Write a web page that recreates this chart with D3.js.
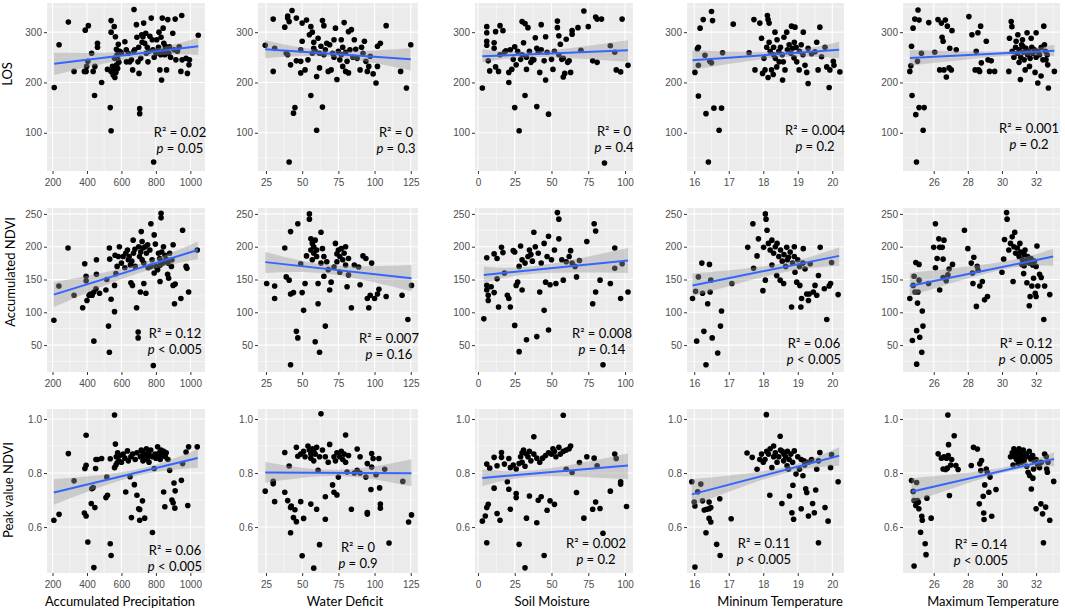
<!DOCTYPE html>
<html>
<head>
<meta charset="utf-8">
<script src="https://cdn.jsdelivr.net/npm/d3@7"></script>
<style>body{margin:0;background:#fff}</style>
</head>
<body>
<svg id="fig" width="1065" height="612"></svg>
<script>
// ---- data ----
const xTitles = ['Accumulated Precipitation', 'Water Deficit', 'Soil Moisture', 'Mininum Temperature', 'Maximum Temperature'];
const yTitles = ['LOS', 'Accumulated NDVI', 'Peak value NDVI'];

const xTicks = [[200, 400, 600, 800, 1000], [25, 50, 75, 100, 125], [0, 25, 50, 75, 100], [16, 17, 18, 19, 20], [26, 28, 30, 32]];
const xMinor = [[300, 500, 700, 900], [37.5, 62.5, 87.5, 112.5], [12.5, 37.5, 62.5, 87.5], [16.5, 17.5, 18.5, 19.5], [25, 27, 29, 31, 33]];
const yTicks = [[100, 200, 300], [50, 100, 150, 200, 250], [0.6, 0.8, 1.0]];
const yMinor = [[50, 150, 250, 350], [25, 75, 125, 175, 225], [0.5, 0.7, 0.9]];
const xDomains = [[168, 1085], [19.5, 130], [-2, 105.4], [15.79, 20.34], [24.2, 33.4]];
const yDomains = [[24, 358], [9, 259], [0.43, 1.037]];

const r2Labels = [['0.02', '0', '0', '0.004', '0.001'], ['0.12', '0.007', '0.008', '0.06', '0.12'], ['0.06', '0', '0.002', '0.11', '0.14']];
const pLabels = [['= 0.05', '= 0.3', '= 0.4', '= 0.2', '= 0.2'], ['< 0.005', '= 0.16', '= 0.14', '< 0.005', '< 0.005'], ['< 0.005', '= 0.9', '= 0.2', '< 0.005', '< 0.005']];

// fitted line [x0, y0, x1, y1] and confidence band [x, low, high]
const fitLines = [
  [[210, 237, 1046, 272], [24.5, 266, 125, 246], [3, 252, 102, 264], [15.95, 244, 20.2, 265], [24.6, 248.5, 33.07, 263]],
  [[208, 127, 1043, 195], [24.5, 176.5, 125.5, 152], [4, 157, 102, 179], [15.95, 141, 20.2, 186], [24.6, 140, 33.0, 185]],
  [[208, 0.728, 1043, 0.856], [24.5, 0.802, 125.5, 0.799], [3, 0.782, 102, 0.828], [15.93, 0.721, 20.2, 0.864], [24.7, 0.731, 33.05, 0.852]]
];
const bands = [
  [[[210, 215, 259], [700, 250, 263], [1046, 255, 289]], [[24.5, 248, 284], [70, 251, 263], [125, 224, 268]], [[3, 240, 266], [40, 250, 262], [102, 241, 284]], [[15.95, 225, 264], [18.5, 250, 262], [20.2, 248, 281]], [[24.6, 233, 265], [30, 252, 262], [33.07, 252, 275]]],
  [[[208, 108, 146], [680, 158, 172], [1043, 181, 208]], [[24.5, 160, 192], [70, 158, 172], [125.5, 132, 172]], [[4, 145, 170], [40, 159, 171], [102, 160, 198]], [[15.95, 124, 159], [18.5, 160, 174], [20.2, 171, 199]], [[24.6, 125, 160], [30, 165, 177], [33.0, 171, 197]]],
  [[[208, 0.683, 0.777], [680, 0.788, 0.812], [1043, 0.82, 0.888]], [[24.5, 0.764, 0.841], [75, 0.789, 0.812], [125.5, 0.751, 0.851]], [[3, 0.752, 0.814], [40, 0.787, 0.811], [102, 0.777, 0.872]], [[15.93, 0.678, 0.777], [18.5, 0.795, 0.819], [20.2, 0.827, 0.895]], [[24.7, 0.69, 0.781], [30, 0.8, 0.82], [33.05, 0.825, 0.877]]]
];

const losPrecip = [[210,190],[238,275],[292,320],[325,222],[385,222],[395,222],[390,304],[408,313],[398,232],[405,242],[427,258],[436,222],[446,232],[461,278],[461,270],[444,174],[485,200],[519,226],[540,323],[540,300],[535,150],[540,104],[558,311],[565,291],[571,266],[575,255],[579,246],[540,222],[548,232],[552,215],[558,226],[562,210],[568,220],[572,235],[578,228],[585,240],[590,262],[595,260],[600,258],[560,248],[582,276],[620,281],[628,265],[629,241],[640,258],[648,241],[658,245],[665,225],[672,262],[677,265],[673,345],[687,315],[690,290],[696,241],[702,218],[706,148],[706,138],[700,270],[712,248],[718,295],[720,280],[729,318],[725,291],[741,298],[735,278],[744,258],[750,270],[754,241],[760,262],[765,292],[773,328],[779,285],[783,265],[787,42],[790,250],[800,258],[805,285],[810,262],[815,270],[818,300],[823,225],[828,255],[830,290],[833,205],[837,328],[840,262],[842,308],[846,278],[852,255],[855,272],[858,265],[862,225],[869,325],[875,258],[879,271],[885,250],[898,298],[906,265],[912,326],[916,245],[925,262],[935,271],[945,222],[950,333],[952,245],[975,248],[983,218],[992,235],[995,245],[1046,294]];
const accPrecip = [[208,88],[237,140],[290,198],[325,126],[375,107],[387,174],[395,155],[395,148],[400,118],[412,126],[420,128],[430,126],[440,131],[440,56],[455,180],[455,158],[452,136],[473,129],[510,134],[515,150],[530,198],[532,181],[525,79],[530,39],[540,120],[560,101],[560,141],[568,159],[575,170],[563,187],[582,185],[588,200],[600,175],[610,185],[620,168],[625,190],[635,195],[640,180],[645,185],[652,172],[655,145],[660,178],[664,141],[668,210],[670,190],[678,196],[680,170],[688,107],[697,70],[697,61],[700,200],[705,185],[710,131],[712,192],[715,223],[720,208],[720,180],[725,198],[730,144],[730,175],[738,200],[742,129],[745,190],[752,203],[755,168],[765,195],[770,170],[771,235],[778,180],[785,19],[790,218],[790,160],[797,204],[800,170],[810,165],[815,190],[822,182],[824,147],[825,172],[830,251],[830,244],[834,192],[840,175],[844,200],[850,178],[853,187],[864,180],[868,158],[870,175],[874,152],[880,190],[890,170],[893,180],[900,203],[900,141],[912,143],[908,113],[945,121],[955,225],[975,170],[980,167],[990,131],[1040,195]];
const peakPrecip = [[208,0.625],[238,0.647],[292,0.872],[325,0.771],[385,0.652],[395,0.641],[388,0.817],[395,0.829],[395,0.94],[405,0.545],[428,0.742],[436,0.746],[425,0.687],[440,0.45],[446,0.672],[450,0.817],[452,0.85],[461,0.85],[485,0.854],[510,0.709],[519,0.718],[515,0.785],[535,0.853],[535,0.538],[540,0.495],[560,1.015],[565,0.907],[560,0.82],[568,0.83],[575,0.838],[585,0.845],[570,0.86],[578,0.875],[590,0.865],[600,0.84],[610,0.87],[620,0.855],[625,0.73],[635,0.882],[640,0.845],[650,0.786],[655,0.86],[658,0.635],[665,0.87],[675,0.757],[680,0.85],[690,0.718],[690,0.875],[700,0.668],[706,0.665],[706,0.625],[710,0.86],[715,0.885],[720,0.88],[722,0.697],[725,0.845],[730,0.87],[735,0.633],[740,0.86],[745,0.89],[750,0.85],[755,0.875],[760,0.84],[765,0.865],[770,0.885],[780,0.58],[780,0.86],[790,0.817],[795,0.87],[800,0.855],[810,0.897],[815,0.86],[820,0.875],[825,0.85],[830,0.885],[835,0.865],[845,0.73],[845,0.88],[852,0.675],[855,0.86],[860,0.875],[870,0.85],[880,0.81],[893,0.7],[900,0.69],[905,0.763],[912,0.734],[910,0.67],[948,0.773],[955,0.835],[975,0.878],[985,0.68],[990,0.897],[1040,0.897]];

const losWD = [[24.5,274],[30,326],[30,222],[31,268],[38,310],[40,332],[40,328],[41,321],[39,258],[40,255],[42,235],[43,343],[41,42],[44,139],[45,150],[46,243],[46,328],[49,265],[49,242],[49,219],[50,318],[50,282],[52,225],[53,324],[54,245],[55,295],[56,311],[56,174],[57,258],[57,300],[58,268],[58,280],[59,262],[60,105],[60,212],[61,288],[62,229],[62,258],[63,272],[64,323],[65,313],[64,151],[65,255],[66,265],[67,278],[68,222],[69,275],[70,225],[71,258],[72,285],[72,250],[73,308],[74,206],[75,262],[76,245],[77,285],[77,255],[78,232],[78,270],[79,319],[80,222],[80,260],[81,242],[82,301],[82,219],[83,265],[84,305],[85,250],[86,285],[87,266],[88,248],[90,225],[91,270],[92,258],[93,282],[94,242],[95,222],[96,232],[97,252],[99,217],[101,199],[102,232],[102,272],[104,278],[108,313],[118,222],[122,189],[125,275]];
const accWD = [[25.5,144],[31,140],[31,121],[38,198],[39,154],[41,149],[42,223],[42,128],[44,130],[42,20],[46,71],[47,61],[47,235],[49,174],[50,130],[51,103],[52,144],[53,186],[55,250],[55,242],[56,212],[56,195],[57,205],[57,180],[58,190],[58,200],[59,210],[59,55],[60,185],[60,195],[61,144],[61,113],[62,39],[63,222],[63,175],[64,197],[65,155],[65,185],[66,79],[67,177],[68,165],[69,134],[70,146],[72,169],[73,205],[74,189],[74,177],[75,195],[76,161],[76,185],[77,197],[78,180],[79,190],[80,172],[80,200],[81,139],[82,157],[82,182],[84,107],[86,172],[89,169],[90,142],[92,186],[94,182],[95,121],[96,107],[97,126],[98,175],[100,121],[102,128],[103,135],[108,124],[119,126],[123,89],[125.5,141]];
const peakWD = [[24.5,0.733],[30,0.769],[30,0.76],[31,0.694],[38,0.876],[38,0.729],[40,0.698],[41,0.826],[42,0.672],[42.5,0.678],[42,0.579],[45,0.664],[44,0.635],[46,0.62],[46,0.895],[47,0.862],[49,0.694],[50,0.494],[51,0.632],[49,0.87],[51,0.88],[52,0.86],[54,0.9],[55,0.885],[56,0.87],[56,0.855],[57,0.89],[58,0.88],[58,0.845],[59,0.87],[60,0.895],[56,0.685],[58,0.448],[60,0.666],[62,0.535],[63,1.019],[61,0.81],[62,0.86],[64,0.885],[66,0.86],[66,0.712],[66,0.629],[68,0.84],[69,0.906],[71,0.756],[72,0.729],[72,0.86],[73,0.845],[74,0.719],[74,0.875],[75,0.785],[76,0.86],[77,0.88],[78,0.85],[79,0.87],[80,0.941],[80,0.84],[81,0.804],[82,0.865],[84,0.666],[86,0.8],[88,0.81],[88,0.889],[90,0.8],[90,0.86],[94,0.785],[95,0.648],[95,0.654],[95,0.835],[97.5,0.739],[98,0.872],[99,0.854],[98,0.822],[101,0.794],[103,0.854],[103.5,0.745],[104,0.685],[104,0.67],[107,0.814],[110,0.541],[119.5,0.769],[123.5,0.619],[125.5,0.645]];

const losSM = [[3,189],[6,311],[6,299],[6,282],[6,274],[7,243],[8,223],[11,279],[11,268],[12,231],[12,301],[14,222],[15,313],[15,255],[17,303],[18,260],[19,263],[21,220],[21,200],[22,265],[23,226],[24,246],[25,150],[25,271],[26,235],[27,262],[28,104],[29,246],[30,321],[30,255],[31,279],[32,174],[32,317],[33,226],[33,250],[34,309],[35,262],[36,240],[37,246],[38,245],[39,289],[40,152],[40,268],[41,260],[42,220],[43,315],[43,265],[45,243],[46,205],[46,291],[47,260],[48,137],[50,246],[51,226],[52,262],[54,322],[54,309],[55,293],[55,255],[56,276],[57,246],[58,211],[58,248],[59,218],[60,286],[61,240],[62,243],[63,220],[64,296],[64,303],[68,309],[70,264],[72,342],[75,311],[78,243],[80,330],[81,326],[81,240],[84,326],[86,40],[90,273],[93,260],[94,225],[97,221],[98,326],[102,234]];
const accSM = [[4,90],[6,183],[6,141],[6,134],[7,126],[7,118],[9,139],[11,130],[11,189],[13,182],[13,151],[14,108],[16,199],[17,191],[18,160],[20,126],[21,121],[22,108],[24,194],[25,192],[25,80],[26,141],[27,146],[28,40],[28,170],[29,201],[30,134],[30,180],[32,175],[33,58],[34,185],[35,195],[36,188],[37,178],[38,222],[39,200],[40,63],[41,190],[42,131],[43,175],[45,103],[45,205],[46,146],[47,185],[48,73],[48,216],[49,142],[50,180],[52,195],[53,144],[54,252],[55,242],[55,212],[57,180],[58,149],[60,177],[62,185],[63,194],[64,175],[66,170],[67,154],[69,179],[74,208],[78,113],[79,235],[80,224],[80,131],[83,149],[85,20],[90,144],[93,198],[93,167],[97,121],[98,174],[102,131]];
const peakSM = [[3,0.622],[5,0.641],[6,0.542],[6,0.833],[6,0.672],[7,0.684],[8,0.818],[11,0.858],[11,0.744],[13,0.827],[13,0.65],[15,0.625],[16,0.876],[16,0.858],[18,0.833],[20,0.768],[21,0.74],[21,0.854],[22,0.666],[22,0.82],[24,0.83],[26,0.709],[26,0.724],[26,0.815],[28,0.536],[28,0.835],[29,0.86],[30,0.84],[30,0.875],[31,0.885],[32,0.449],[32,0.825],[33,0.633],[33,0.87],[34,0.86],[35,0.715],[35,0.88],[36,0.845],[38,0.934],[38,0.87],[40,0.616],[40,0.855],[41,0.699],[42,0.84],[43,0.712],[44,0.855],[45,0.495],[46,0.865],[47,0.662],[48,0.875],[49,0.697],[50,0.87],[51,0.89],[52,0.684],[52,0.88],[53,0.86],[55,0.895],[56,0.87],[58,1.014],[58,0.88],[60,0.814],[60,0.885],[62,0.89],[63,0.9],[64,0.802],[67,0.728],[69,0.839],[72,0.633],[74,0.86],[78,0.666],[79,0.855],[80,0.693],[81,0.827],[83,0.669],[85,0.577],[90,0.733],[93,0.87],[94,0.854],[97,0.768],[97,0.759],[101,0.676]];

const losTmin = [[16.02,220],[16.09,267],[16.12,270],[16.12,234],[16.12,173],[16.17,308],[16.26,325],[16.31,254],[16.34,138],[16.41,42],[16.45,242],[16.5,239],[16.5,341],[16.53,323],[16.57,149],[16.72,105],[16.79,149],[16.82,259],[17.13,316],[17.59,259],[17.73,325],[17.76,225],[17.9,318],[17.95,288],[17.98,218],[18.02,248],[18.05,225],[18.1,270],[18.12,333],[18.14,325],[18.17,318],[18.14,210],[18.17,280],[18.2,262],[18.24,225],[18.29,216],[18.3,255],[18.3,270],[18.34,300],[18.35,248],[18.39,231],[18.4,285],[18.45,262],[18.46,241],[18.5,270],[18.55,255],[18.56,205],[18.58,241],[18.6,290],[18.63,225],[18.68,300],[18.7,265],[18.75,275],[18.8,258],[18.82,312],[18.85,268],[18.89,249],[18.9,280],[18.92,310],[18.95,270],[18.97,241],[19.04,225],[19.05,262],[19.1,275],[19.15,255],[19.16,300],[19.21,234],[19.26,220],[19.3,198],[19.3,268],[19.4,257],[19.5,261],[19.55,280],[19.59,225],[19.64,310],[19.69,251],[19.79,270],[19.84,231],[19.91,190],[19.93,225],[20.03,242],[20.05,234],[20.22,221]];
const accTmin = [[15.95,121],[16.04,132],[16.07,56],[16.12,154],[16.22,175],[16.24,129],[16.28,71],[16.34,20],[16.39,113],[16.44,173],[16.46,131],[16.48,149],[16.52,61],[16.68,38],[16.76,79],[16.79,102],[17.09,144],[17.55,199],[17.7,235],[17.72,167],[17.82,186],[17.86,212],[17.99,133],[18.01,199],[18.06,250],[18.08,242],[18.06,149],[18.11,225],[18.15,205],[18.2,195],[18.25,172],[18.25,210],[18.3,190],[18.35,200],[18.39,156],[18.4,205],[18.45,185],[18.49,149],[18.5,195],[18.55,178],[18.59,144],[18.6,188],[18.65,170],[18.68,199],[18.7,180],[18.73,184],[18.78,192],[18.82,108],[18.85,175],[18.9,185],[18.9,200],[18.92,161],[18.97,146],[19.0,180],[19.05,170],[19.06,141],[19.09,108],[19.11,121],[19.15,175],[19.16,197],[19.21,166],[19.26,128],[19.31,118],[19.33,128],[19.36,174],[19.45,131],[19.5,141],[19.55,126],[19.6,156],[19.65,199],[19.77,136],[19.84,89],[19.91,140],[19.95,144],[19.98,176],[20.17,127]];
const peakTmin = [[15.93,0.768],[16,0.693],[16.02,0.678],[16.02,0.452],[16.1,0.731],[16.19,0.759],[16.24,0.697],[16.29,0.663],[16.36,0.666],[16.43,0.668],[16.48,0.672],[16.34,0.579],[16.43,0.693],[16.43,0.632],[16.48,0.619],[16.65,0.536],[16.74,0.705],[16.75,0.495],[17.07,0.631],[17.53,0.874],[17.68,0.858],[17.82,0.814],[17.9,0.85],[17.95,0.87],[18.0,0.84],[18.05,0.85],[18.09,1.016],[18.1,0.88],[18.15,0.87],[18.19,0.718],[18.2,0.89],[18.25,0.82],[18.3,0.86],[18.3,0.9],[18.35,0.875],[18.4,0.84],[18.45,0.86],[18.49,0.936],[18.5,0.885],[18.54,0.687],[18.55,0.88],[18.59,0.845],[18.6,0.87],[18.65,0.86],[18.69,0.827],[18.7,0.88],[18.73,0.814],[18.75,0.85],[18.76,0.715],[18.8,0.87],[18.83,0.653],[18.85,0.84],[18.86,0.755],[18.88,0.629],[18.9,0.882],[18.95,0.796],[19.0,0.86],[19.05,0.814],[19.1,0.668],[19.1,0.85],[19.15,0.79],[19.18,0.845],[19.2,0.83],[19.23,0.742],[19.26,0.728],[19.3,0.84],[19.31,0.641],[19.4,0.85],[19.43,0.687],[19.48,0.653],[19.52,0.737],[19.55,0.814],[19.6,0.845],[19.6,0.542],[19.64,0.876],[19.79,0.672],[19.88,0.622],[19.95,0.82],[19.98,0.868],[20.17,0.768]];

const losTmax = [[24.6,222],[24.66,233],[24.7,272],[24.73,174],[24.79,308],[24.89,326],[24.95,136],[24.99,42],[25.05,242],[25.08,344],[25.14,324],[25.14,150],[25.28,258],[25.38,105],[25.44,150],[25.71,319],[26.06,260],[26.25,325],[26.35,225],[26.45,318],[26.49,290],[26.55,282],[26.6,225],[26.68,324],[26.74,211],[26.8,312],[26.9,229],[26.94,268],[27.03,225],[27.07,303],[27.32,265],[28.06,331],[28.24,295],[28.43,225],[28.49,262],[28.59,299],[28.63,225],[28.69,222],[28.75,312],[28.79,239],[29.08,282],[29.18,245],[29.27,222],[29.37,243],[29.57,222],[30.4,222],[30.44,288],[30.54,321],[30.58,311],[30.6,262],[30.7,250],[30.8,270],[30.83,282],[30.9,258],[30.93,295],[31.0,265],[31.0,240],[31.08,206],[31.1,250],[31.15,275],[31.2,285],[31.22,272],[31.25,260],[31.3,245],[31.36,225],[31.4,268],[31.47,299],[31.5,255],[31.55,262],[31.61,232],[31.65,248],[31.71,288],[31.75,270],[31.8,258],[31.9,265],[31.94,220],[32,299],[32.0,250],[32.1,199],[32.1,262],[32.2,255],[32.29,213],[32.3,270],[32.4,245],[32.45,312],[32.49,275],[32.55,262],[32.58,245],[32.65,255],[32.68,235],[32.72,189],[33.07,222]];
const accTmax = [[24.6,121],[24.75,57],[24.8,141],[24.85,155],[24.9,131],[24.95,176],[25.0,21],[25.0,72],[25.05,114],[25.08,131],[25.14,173],[25.14,149],[25.18,62],[25.3,39],[25.33,102],[25.37,79],[25.7,144],[26.0,199],[26.1,235],[26.1,168],[26.2,182],[26.3,212],[26.35,199],[26.35,134],[26.5,199],[26.55,153],[26.55,181],[26.6,210],[26.73,148],[26.83,157],[26.9,166],[27.1,173],[27.8,225],[28.0,197],[28.2,175],[28.27,160],[28.3,144],[28.35,184],[28.5,109],[28.55,170],[28.6,164],[28.7,140],[28.85,147],[28.98,119],[29.15,124],[30.0,161],[30.1,181],[30.15,211],[30.27,252],[30.3,242],[30.4,195],[30.5,205],[30.6,215],[30.65,147],[30.7,200],[30.75,222],[30.8,190],[30.9,198],[31.0,185],[31.05,205],[31.1,192],[31.17,173],[31.2,180],[31.27,159],[31.3,171],[31.3,188],[31.35,195],[31.4,178],[31.46,145],[31.5,185],[31.6,110],[31.6,175],[31.65,124],[31.7,182],[31.75,140],[31.8,172],[31.85,152],[31.9,178],[31.95,129],[32.0,124],[32.0,170],[32.05,201],[32.1,140],[32.2,158],[32.3,153],[32.45,89],[32.5,140],[32.8,127]];
const peakTmax = [[24.7,0.772],[24.8,0.732],[24.85,0.698],[24.85,0.456],[24.95,0.68],[25.0,0.765],[25.05,0.698],[25.1,0.692],[25.13,0.668],[25.23,0.581],[25.3,0.64],[25.33,0.625],[25.5,0.538],[25.55,0.498],[25.6,0.707],[25.85,0.633],[26.26,0.871],[26.45,0.855],[26.55,0.815],[26.6,0.86],[26.7,0.813],[26.75,0.855],[26.8,0.818],[26.83,1.015],[26.85,0.865],[26.87,0.905],[26.92,0.717],[27.0,0.83],[27.05,0.85],[27.2,0.938],[27.3,0.828],[27.43,0.813],[28.2,0.828],[28.33,0.895],[28.56,0.889],[28.67,0.686],[28.7,0.834],[28.76,0.809],[28.8,0.846],[28.9,0.714],[28.93,0.652],[28.95,0.628],[28.99,0.756],[29.08,0.815],[29.14,0.803],[29.23,0.729],[29.3,0.785],[29.4,0.64],[29.65,0.739],[30.5,0.86],[30.6,0.875],[30.65,0.83],[30.7,0.89],[30.75,0.86],[30.8,0.88],[30.85,0.85],[30.9,0.87],[30.95,0.835],[31.0,0.89],[31.05,0.855],[31.1,0.875],[31.15,0.84],[31.2,0.86],[31.25,0.885],[31.3,0.845],[31.4,0.87],[31.45,0.825],[31.5,0.86],[31.53,0.803],[31.6,0.88],[31.62,0.791],[31.7,0.85],[31.72,0.741],[31.8,0.865],[31.81,0.781],[31.85,0.815],[31.9,0.845],[32.0,0.85],[32.0,0.668],[32.1,0.83],[32.2,0.82],[32.28,0.686],[32.3,0.84],[32.38,0.649],[32.43,0.542],[32.5,0.87],[32.56,0.674],[32.6,0.86],[32.62,0.815],[32.66,0.803],[32.7,0.84],[32.8,0.625],[33.03,0.769]];

const points = [
  [losPrecip, losWD, losSM, losTmin, losTmax],
  [accPrecip, accWD, accSM, accTmin, accTmax],
  [peakPrecip, peakWD, peakSM, peakTmin, peakTmax]
];

// ---- layout ----
const colPx = [[47, 205], [258, 418], [475, 633], [687, 844], [903, 1060]];
const rowPx = [[3, 171], [208, 372], [409, 573]];
const annotPos = [
  [[180, 137], [396, 137], [614, 136], [815, 135], [1029, 133]],
  [[175, 338], [389, 343], [602, 338], [814, 348], [1026, 348]],
  [[175, 555], [358, 552], [596, 548], [764, 548], [981, 549]]
];
const yTitlePos = [[12, 74], [15, 272], [13, 490]];
const xTitleX = [120, 345, 552, 780, 993];
const font = 'Lato, "Open Sans", sans-serif';
const tickFont = '"Liberation Sans", Arial, sans-serif';

const svg = d3.select('#fig');
const tickFmt = [d3.format('d'), d3.format('d'), d3.format('.1f')];

for (let r = 0; r < 3; r++) {
  for (let c = 0; c < 5; c++) {
    let x = d3.scaleLinear().domain(xDomains[c]).range(colPx[c]);
    let y = d3.scaleLinear().domain(yDomains[r]).range([rowPx[r][1], rowPx[r][0]]);
    let [x0, x1] = colPx[c], [y0, y1] = rowPx[r];
    let g = svg.append('g');

    g.append('rect')
      .attr('x', x0).attr('y', y0)
      .attr('width', x1 - x0).attr('height', y1 - y0)
      .attr('fill', '#EBEBEB');

    let inX = v => v > xDomains[c][0] && v < xDomains[c][1];
    let inY = v => v > yDomains[r][0] && v < yDomains[r][1];

    // grid: minor then major
    g.selectAll('.vmin').data(xMinor[c].filter(inX)).enter().append('line')
      .attr('x1', d => x(d)).attr('x2', d => x(d)).attr('y1', y0).attr('y2', y1)
      .attr('stroke', '#fff').attr('stroke-width', 0.5);
    g.selectAll('.hmin').data(yMinor[r].filter(inY)).enter().append('line')
      .attr('y1', d => y(d)).attr('y2', d => y(d)).attr('x1', x0).attr('x2', x1)
      .attr('stroke', '#fff').attr('stroke-width', 0.5);
    g.selectAll('.vmaj').data(xTicks[c]).enter().append('line')
      .attr('x1', d => x(d)).attr('x2', d => x(d)).attr('y1', y0).attr('y2', y1)
      .attr('stroke', '#fff').attr('stroke-width', 1.1);
    g.selectAll('.hmaj').data(yTicks[r]).enter().append('line')
      .attr('y1', d => y(d)).attr('y2', d => y(d)).attr('x1', x0).attr('x2', x1)
      .attr('stroke', '#fff').attr('stroke-width', 1.1);

    // axes
    let ax = g.append('g')
      .attr('transform', `translate(0,${y1})`)
      .call(d3.axisBottom(x).tickValues(xTicks[c]).tickFormat(d3.format('d')).tickSize(3).tickPadding(5));
    let ay = g.append('g')
      .attr('transform', `translate(${x0},0)`)
      .call(d3.axisLeft(y).tickValues(yTicks[r]).tickFormat(tickFmt[r]).tickSize(3).tickPadding(2));
    [ax, ay].forEach(a => {
      a.select('.domain').remove();
      a.selectAll('line').attr('stroke', '#333');
      a.selectAll('text').attr('fill', '#4D4D4D').attr('font-size', 10).attr('font-family', tickFont);
    });

    // points
    g.selectAll('circle').data(points[r][c]).enter().append('circle')
      .attr('cx', d => x(d[0])).attr('cy', d => y(d[1]))
      .attr('r', 2.8).attr('fill', '#000');

    // confidence band and fitted line
    let area = d3.area().x(d => x(d[0])).y0(d => y(d[1])).y1(d => y(d[2])).curve(d3.curveNatural);
    g.append('path').attr('d', area(bands[r][c]))
      .attr('fill', '#999').attr('fill-opacity', 0.4);
    let f = fitLines[r][c];
    g.append('line')
      .attr('x1', x(f[0])).attr('y1', y(f[1])).attr('x2', x(f[2])).attr('y2', y(f[3]))
      .attr('stroke', '#3366FF').attr('stroke-width', 2);

    // annotation
    let [ax0, ay0] = annotPos[r][c];
    g.append('text').attr('x', ax0).attr('y', ay0)
      .attr('text-anchor', 'middle').attr('font-family', font).attr('font-size', 13)
      .text('R\u00B2 = ' + r2Labels[r][c]);
    let pt = g.append('text').attr('x', ax0).attr('y', ay0 + 16)
      .attr('text-anchor', 'middle').attr('font-family', font).attr('font-size', 13);
    pt.append('tspan').attr('font-style', 'italic').text('p');
    pt.append('tspan').text(' ' + pLabels[r][c]);
  }
}

// axis titles
yTitles.forEach((t, i) => {
  svg.append('text')
    .attr('transform', `translate(${yTitlePos[i][0]},${yTitlePos[i][1]}) rotate(-90)`)
    .attr('text-anchor', 'middle').attr('font-family', font).attr('font-size', 13)
    .text(t);
});
xTitles.forEach((t, i) => {
  svg.append('text')
    .attr('x', xTitleX[i]).attr('y', 606)
    .attr('text-anchor', 'middle').attr('font-family', font).attr('font-size', 13)
    .text(t);
});
</script>
</body>
</html>
